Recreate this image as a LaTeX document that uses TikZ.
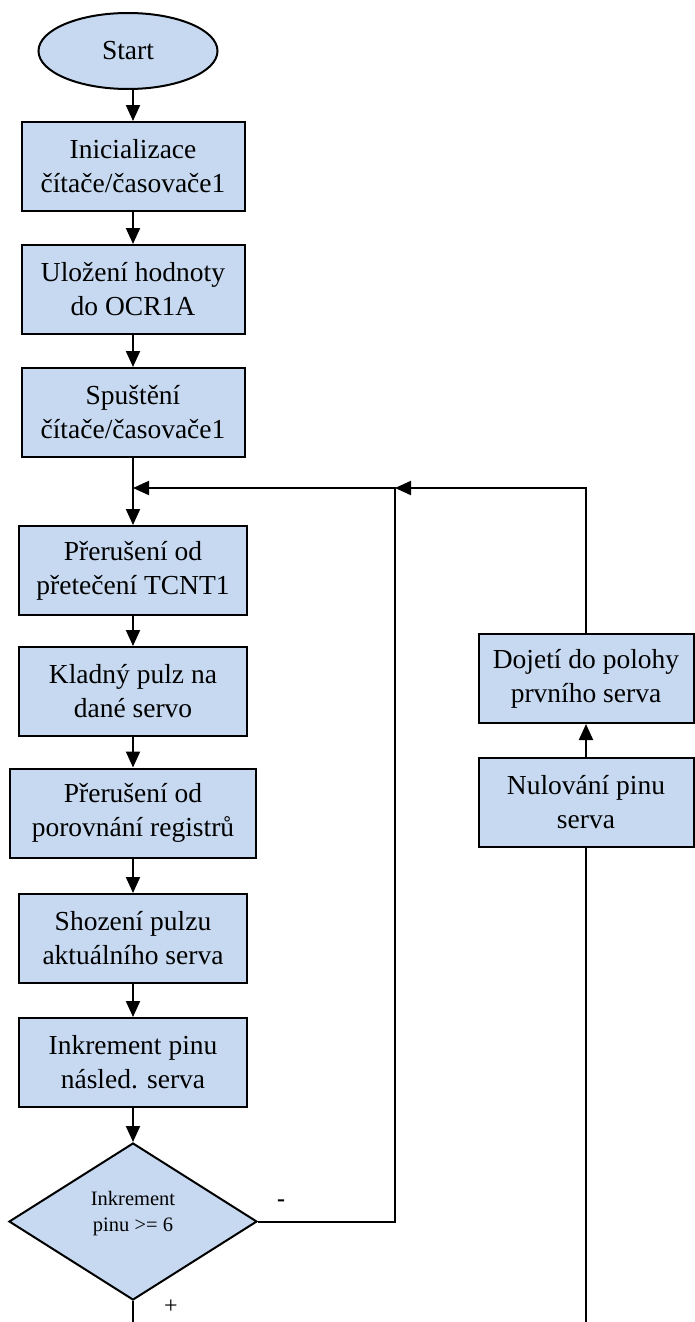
\documentclass[tikz,border=0pt]{standalone}
\usepackage{fontspec}
\setmainfont{Liberation Serif}
\usetikzlibrary{shapes.geometric,arrows.meta}
\definecolor{boxblue}{HTML}{C6D9F0}
\begin{document}
\begin{tikzpicture}[x=1pt,y=-1pt,
  base/.style={draw=black, line width=2pt, fill=boxblue, inner sep=0pt, align=center, font=\fontsize{27.5}{34}\selectfont},
  procbox/.style={base, rectangle, minimum height=89pt},
  term/.style={base, ellipse, minimum width=179pt, minimum height=76pt},
  decision/.style={base, diamond, minimum width=248pt, minimum height=157pt},
  conn/.style={line width=2pt, -{Triangle[length=16pt,width=14pt]}},
  plain/.style={line width=2pt},
  small/.style={font=\fontsize{20.5}{26}\selectfont, align=center, inner sep=0pt},
  sign/.style={font=\fontsize{24}{28}\selectfont, inner sep=0pt}
]
\useasboundingbox (0,0) rectangle (694,1322);

\node[term] (start) at (128,51) {Start};
\node[procbox, minimum width=223pt] (b1) at (133,166.5) {Inicializace\\čítače/časovače1};
\node[procbox, minimum width=223pt] (b2) at (133,289.5) {Uložení hodnoty\\do OCR1A};
\node[procbox, minimum width=223pt] (b3) at (133,412.5) {Spuštění\\čítače/časovače1};
\node[procbox, minimum width=228pt] (b4) at (133,570.5) {Přerušení od\\přetečení TCNT1};
\node[procbox, minimum width=228pt] (b5) at (133,691.5) {Kladný pulz na\\dané servo};
\node[procbox, minimum width=246pt] (b6) at (133,813) {Přerušení od\\porovnání registrů};
\node[procbox, minimum width=228pt] (b7) at (133,938.5) {Shození pulzu\\aktuálního serva};
\node[procbox, minimum width=228pt] (b8) at (133,1062.5) {Inkrement pinu\\násled. serva};
\node[decision] (dia) at (133,1221.5) {};
\node[small] (dtext) at (133,1214) {Inkrement\\pinu >= 6};

\node[procbox, minimum width=215pt] (doj) at (586,678.5) {Dojetí do polohy\\prvního serva};
\node[procbox, minimum width=215pt] (nul) at (586,802.5) {Nulování pinu\\serva};

\node[sign, font=\fontsize{24}{28}\selectfont\bfseries] (minus) at (281,1203) {-};
\node[sign] (plus) at (171,1307) {+};

\coordinate (j1) at (133,488);
\coordinate (j2) at (395,488);
\coordinate (bl) at (133,1322);
\coordinate (br) at (586,1322);

\draw[conn] (start.south -| b1.north) -- (b1.north);
\draw[conn] (b1) -- (b2);
\draw[conn] (b2) -- (b3);
\draw[conn] (b3) -- (b4);
\draw[conn] (b4) -- (b5);
\draw[conn] (b5) -- (b6);
\draw[conn] (b6) -- (b7);
\draw[conn] (b7) -- (b8);
\draw[conn] (b8) -- (dia);
\draw[conn] (dia.east) -| (j2) -- (j1);
\draw[conn] (doj.north) |- (j2);
\draw[conn] (nul) -- (doj);
\draw[plain] (nul.south) -- (br);
\draw[plain] (dia.south) -- (bl);
\end{tikzpicture}
\end{document}
